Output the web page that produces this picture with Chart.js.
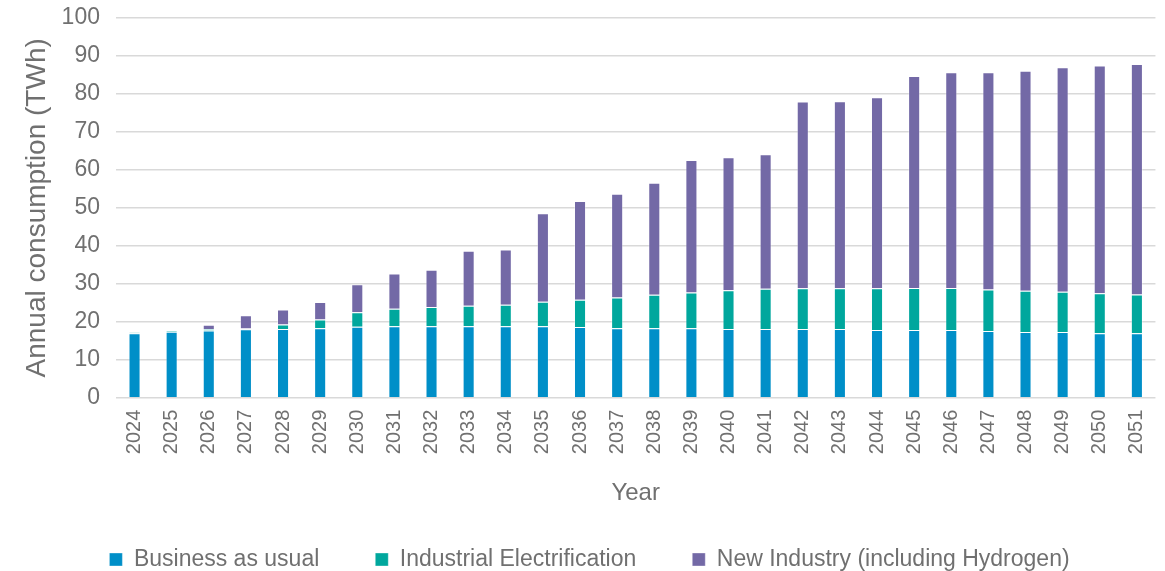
<!DOCTYPE html>
<html>
<head>
<meta charset="utf-8">
<script src="https://cdn.jsdelivr.net/npm/chart.js@4/dist/chart.umd.min.js"></script>
<style>
  html, body { margin: 0; padding: 0; background: #fff; }
  #wrap { width: 1165px; height: 571px; position: relative; }
</style>
</head>
<body>
<div id="wrap"><canvas id="consumption-chart"></canvas></div>
<script>
const years = ['2024', '2025', '2026', '2027', '2028', '2029', '2030', '2031', '2032', '2033',
    '2034', '2035', '2036', '2037', '2038', '2039', '2040', '2041', '2042', '2043',
    '2044', '2045', '2046', '2047', '2048', '2049', '2050', '2051'];

// TWh per year for each demand component (stacked)
const businessAsUsual = [17.0, 17.4, 17.7, 18.0, 18.1, 18.3, 18.7, 18.8, 18.8, 18.8,
    18.8, 18.8, 18.6, 18.3, 18.3, 18.3, 18.1, 18.1, 18.1, 18.1,
    17.8, 17.8, 17.8, 17.6, 17.3, 17.3, 17.0, 17.0];
const industrialElectrification = [0.2, 0.2, 0.4, 0.2, 1.2, 2.3, 3.8, 4.6, 5.1, 5.4,
    5.7, 6.5, 7.2, 8.1, 8.8, 9.4, 10.2, 10.6, 10.7, 10.7,
    11.0, 11.1, 11.1, 10.9, 10.9, 10.6, 10.5, 10.2];
const newIndustry = [0, 0, 1.1, 3.5, 3.9, 4.6, 7.4, 9.3, 9.8, 14.5,
    14.5, 23.3, 26.0, 27.3, 29.5, 34.9, 35.0, 35.4, 49.2, 49.3,
    50.3, 55.8, 56.8, 57.2, 57.9, 59.1, 60.0, 60.7];

const yTicks = { min: 0, max: 100, step: 10 };

const textGrey = '#707070';
const fontFamily = '"Liberation Sans", Arial, sans-serif';

function series(label, data, color) {
    return {
        label: label,
        data: data,
        backgroundColor: color,
        borderColor: 'rgba(255, 255, 255, 0.35)',
        borderWidth: 1,
        barPercentage: 0.65,
        categoryPercentage: 0.5,
    };
}

const ctx = document.getElementById('consumption-chart').getContext('2d');
const chart = new Chart(ctx, {
    type: 'bar',
    data: {
        labels: years,
        datasets: [
            series('Business as usual', businessAsUsual, '#008fc8'),
            series('Industrial Electrification', industrialElectrification, '#00a79d'),
            series('New Industry (including Hydrogen)', newIndustry, '#7369a6'),
        ]
    },
    options: {
        responsive: true,
        maintainAspectRatio: false,
        animation: false,
        layout: {
            // legend sits low, close to the bottom edge
            padding: { top: 0, right: 6, left: 20, bottom: -10 }
        },
        plugins: {
            legend: {
                position: 'bottom',
                labels: {
                    color: textGrey,
                    font: { family: fontFamily, size: 23 },
                    boxWidth: 13,
                    boxHeight: 13,
                    padding: 56,
                },
            },
            tooltip: { enabled: false },
        },
        scales: {
            x: {
                stacked: true,
                grid: { display: false },
                border: { display: false },
                ticks: {
                    color: textGrey,
                    font: { family: fontFamily, size: 20 },
                    minRotation: 90,
                    maxRotation: 90,
                    padding: 4,
                },
                title: {
                    display: true,
                    text: 'Year',
                    color: textGrey,
                    font: { family: fontFamily, size: 24 },
                    padding: { top: 21, bottom: -16 },
                },
            },
            y: {
                stacked: true,
                min: yTicks.min,
                max: yTicks.max,
                grid: { color: '#d9d9d9', lineWidth: 1.5, drawTicks: false },
                border: { display: false },
                ticks: {
                    stepSize: yTicks.step,
                    color: textGrey,
                    font: { family: fontFamily, size: 23 },
                    padding: 16,
                },
                title: {
                    display: true,
                    text: 'Annual consumption (TWh)',
                    color: textGrey,
                    font: { family: fontFamily, size: 28 },
                    padding: { top: 0, bottom: -8 },
                },
                // tick padding would otherwise push the top gridline down
                afterFit: (scale) => {
                    scale.paddingTop = 18;
                },
            }
        }
    }
});
</script>
</body>
</html>
